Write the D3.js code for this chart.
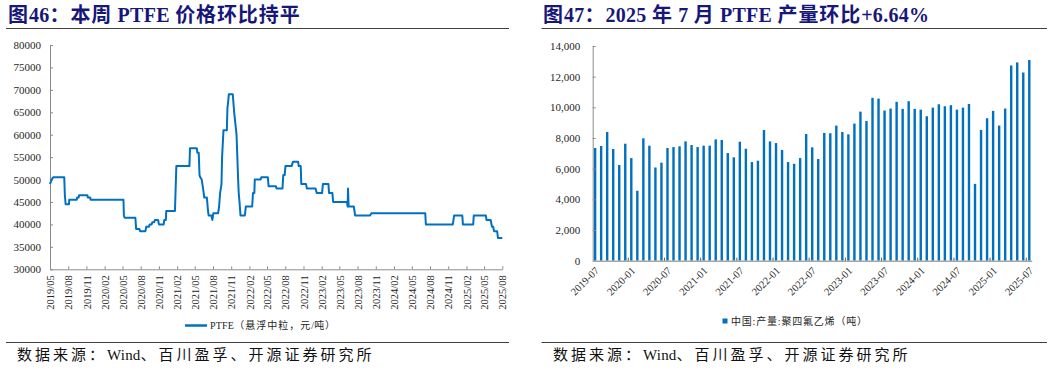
<!DOCTYPE html>
<html><head><meta charset="utf-8">
<script src="https://cdn.jsdelivr.net/npm/d3@7"></script>
<style>
html,body{margin:0;padding:0;background:#fff;}
svg{display:block;}
</style></head><body>
<svg id="c" width="1057" height="369"></svg>
<script>
// ---------- data ----------
const priceDates = ["2019-05-01","2019-05-09","2019-05-17","2019-07-12","2019-07-15","2019-07-19","2019-08-05","2019-08-06","2019-09-13","2019-09-15","2019-09-23","2019-09-25","2019-11-06","2019-11-08","2019-11-20","2019-11-22","2020-05-06","2020-05-08","2020-05-12","2020-07-05","2020-07-09","2020-07-25","2020-07-29","2020-08-25","2020-08-29","2020-09-12","2020-09-15","2020-09-25","2020-09-29","2020-10-08","2020-10-12","2020-10-28","2020-11-01","2020-11-25","2020-11-28","2020-12-06","2020-12-08","2021-01-21","2021-01-28","2021-04-04","2021-04-07","2021-05-11","2021-05-14","2021-05-21","2021-05-25","2021-05-29","2021-06-05","2021-06-12","2021-06-18","2021-07-01","2021-07-07","2021-07-10","2021-07-24","2021-07-29","2021-08-03","2021-08-27","2021-09-01","2021-09-06","2021-09-13","2021-09-16","2021-09-23","2021-10-10","2021-10-13","2021-10-16","2021-10-20","2021-11-09","2021-11-16","2021-11-28","2021-12-02","2021-12-06","2021-12-09","2021-12-13","2021-12-18","2022-01-09","2022-01-14","2022-02-15","2022-02-19","2022-02-26","2022-02-28","2022-03-29","2022-04-02","2022-05-05","2022-05-09","2022-06-15","2022-06-18","2022-07-18","2022-07-22","2022-07-29","2022-08-02","2022-09-02","2022-09-09","2022-10-05","2022-10-08","2022-10-18","2022-10-21","2022-11-14","2022-11-18","2023-01-01","2023-01-07","2023-02-03","2023-02-07","2023-03-07","2023-03-10","2023-03-27","2023-03-31","2023-06-09","2023-06-12","2023-06-14","2023-06-17","2023-07-13","2023-07-20","2023-10-03","2023-10-10","2024-07-08","2024-07-11","2024-11-24","2024-12-01","2025-01-11","2025-01-14","2025-03-07","2025-03-10","2025-05-10","2025-05-13","2025-06-03","2025-06-10","2025-06-16","2025-06-20","2025-07-06","2025-07-10","2025-08-01"];
const priceValues = [49000,50000,50500,50500,46500,44500,44500,45500,45500,46000,46000,46500,46500,46000,46000,45500,45500,42000,41500,41500,39000,39000,38500,38500,39500,39500,40000,40000,40500,40500,41000,41000,40000,40000,41000,41000,43000,43000,53000,53000,57000,57000,56000,56000,51000,50500,50000,48000,46000,46000,43000,42000,42000,41000,42500,42500,44000,47000,49000,55000,61000,61000,66000,67000,69000,69000,65000,60000,55000,50000,47000,45000,42000,42000,44000,44000,47000,47000,50000,50000,50500,50500,48500,48500,48000,48000,51000,51000,53000,53000,54000,54000,53000,53000,49000,49000,48000,48000,47000,47000,49000,49000,47000,47000,45000,45000,44000,48000,44000,44000,42000,42000,42500,42500,40000,40000,42000,42000,40000,40000,42000,42000,41000,41000,39500,39500,38500,38500,37000,37000];
const priceYTicks = [30000,35000,40000,45000,50000,55000,60000,65000,70000,75000,80000];
const priceXTickLabels = ["2019/05","2019/08","2019/11","2020/02","2020/05","2020/08","2020/11","2021/02","2021/05","2021/08","2021/11","2022/02","2022/05","2022/08","2022/11","2023/02","2023/05","2023/08","2023/11","2024/02","2024/05","2024/08","2024/11","2025/02","2025/05","2025/08"];

const prodMonths = ["2019-07","2019-08","2019-09","2019-10","2019-11","2019-12",
 "2020-01","2020-02","2020-03","2020-04","2020-05","2020-06","2020-07","2020-08","2020-09","2020-10","2020-11","2020-12",
 "2021-01","2021-02","2021-03","2021-04","2021-05","2021-06","2021-07","2021-08","2021-09","2021-10","2021-11","2021-12",
 "2022-01","2022-02","2022-03","2022-04","2022-05","2022-06","2022-07","2022-08","2022-09","2022-10","2022-11","2022-12",
 "2023-01","2023-02","2023-03","2023-04","2023-05","2023-06","2023-07","2023-08","2023-09","2023-10","2023-11","2023-12",
 "2024-01","2024-02","2024-03","2024-04","2024-05","2024-06","2024-07","2024-08","2024-09","2024-10","2024-11","2024-12",
 "2025-01","2025-02","2025-03","2025-04","2025-05","2025-06","2025-07"];
const prodValues = [7350,7480,8390,7280,6240,7630,
 6690,4560,7980,7500,6080,6390,7350,7410,7460,7780,7540,7410,
 7500,7500,7910,7870,7020,6740,7760,7300,6430,6520,8520,7780,
 7670,7220,6430,6320,6690,8260,7390,6630,8330,8310,8810,8390,
 8240,8940,9720,9110,10620,10570,9790,9920,10360,9900,10400,9900,
 9850,9420,9980,10200,10070,10140,9850,9980,10220,5010,8520,9290,
 9770,8810,9920,12730,12930,12270,13085];
const prodYTicks = [0,2000,4000,6000,8000,10000,12000,14000];
const prodXTickLabels = ["2019-07","2020-01","2020-07","2021-01","2021-07","2022-01","2022-07","2023-01","2023-07","2024-01","2024-07","2025-01","2025-07"];

const titleLeft = "图46：本周 PTFE 价格环比持平";
const titleRight = "图47：2025 年 7 月 PTFE 产量环比+6.64%";
const legendLeft = "PTFE（悬浮中粒，元/吨）";
const legendRight = "中国:产量:聚四氟乙烯（吨）";
const sourceText = "数据来源：Wind、百川盈孚、开源证券研究所";

// ---------- styles ----------
const SERIF = "'Liberation Serif','Times New Roman','Noto Sans CJK SC',serif";
const BLUE = "#0070C0";
const TITLE = "#17177a";
const AXIS = "#8c8c8c";
const TXT = "#262626";

const svg = d3.select("#c");

// text with separate spacing for CJK runs and latin runs
function rich(sel, str, cjkSp, latSp) {
  const runs = str.match(/[\u3000-\u303f\u4e00-\u9fff\uff00-\uffef]+|[^\u3000-\u303f\u4e00-\u9fff\uff00-\uffef]+/g);
  runs.forEach(r => {
    const isCjk = /[\u3000-\u303f\u4e00-\u9fff\uff00-\uffef]/.test(r);
    sel.append("tspan").text(r).attr("letter-spacing", isCjk ? cjkSp : latSp);
  });
  return sel;
}

// titles, rules, sources
[[8, titleLeft, 6, 509, 17], [543, titleRight, 541.5, 1047, 553]].forEach(([tx, t, x0, x1, sx]) => {
  const tt = svg.append("text").attr("x", tx).attr("y", 22)
    .attr("font-family", SERIF).attr("font-weight", "bold").attr("font-size", 20).attr("fill", TITLE);
  rich(tt, t, 0.9, 0.3);
  svg.append("line").attr("x1", x0).attr("x2", x1).attr("y1", 28.5).attr("y2", 28.5).attr("stroke", "#404040").attr("stroke-width", 1);
  svg.append("line").attr("x1", x0).attr("x2", x1).attr("y1", 342.5).attr("y2", 342.5).attr("stroke", "#404040").attr("stroke-width", 1);
  const st = svg.append("text").attr("x", sx).attr("y", 360)
    .attr("font-family", SERIF).attr("font-size", 15).attr("fill", "#111");
  rich(st, sourceText, 3, 0.2);
});

// ---------- left chart ----------
const parseD = d3.timeParse("%Y-%m-%d");
const parseM = d3.timeParse("%Y/%m");
const x = d3.scaleTime().domain([parseM("2019/05"), parseM("2025/08")]).range([50, 502.3]);
const y = d3.scaleLinear().domain([30000, 80000]).range([269.3, 45]);

const gL = svg.append("g");
const yAx = gL.append("g").attr("transform", "translate(50,0)")
  .call(d3.axisLeft(y).tickValues(priceYTicks).tickFormat(d3.format("d")).tickSize(-3).tickSizeOuter(0).tickPadding(9));
const xAx = gL.append("g").attr("transform", "translate(0,269.3)")
  .call(d3.axisBottom(x).tickValues(priceXTickLabels.map(parseM)).tickFormat(d3.timeFormat("%Y/%m")).tickSize(-3).tickSizeOuter(0));
xAx.selectAll("text").attr("transform", "rotate(-90)").attr("x", -6).attr("y", 0).attr("dy", "0.35em").attr("text-anchor", "end");
[yAx, xAx].forEach(a => {
  a.selectAll("path.domain").attr("stroke", AXIS);
  a.selectAll(".tick line").attr("stroke", AXIS);
  a.selectAll("text").attr("font-family", SERIF).attr("font-size", 11).attr("fill", TXT);
});
xAx.selectAll("text").attr("font-size", 10.5);

const pts = priceDates.map((d, i) => [parseD(d), priceValues[i]]);
gL.append("path").datum(pts)
  .attr("d", d3.line().x(d => x(d[0])).y(d => y(d[1])))
  .attr("fill", "none").attr("stroke", BLUE).attr("stroke-width", 2).attr("stroke-linejoin", "round");

// legend left
gL.append("line").attr("x1", 185).attr("x2", 207).attr("y1", 325.5).attr("y2", 325.5).attr("stroke", BLUE).attr("stroke-width", 2.5);
const lt = gL.append("text").attr("x", 210).attr("y", 329)
  .attr("font-family", SERIF).attr("font-size", 10).attr("fill", TXT);
rich(lt, legendLeft, 1, 0.2);

// ---------- right chart ----------
const xb = d3.scaleBand().domain(prodMonths).range([592.7, 1031.7]).paddingInner(0.6).paddingOuter(0.2);
const yb = d3.scaleLinear().domain([0, 14000]).range([260.7, 46]);
const gR = svg.append("g");

gR.selectAll("rect.bar").data(prodMonths).join("rect").attr("class", "bar")
  .attr("x", d => xb(d)).attr("width", xb.bandwidth())
  .attr("y", (d, i) => yb(prodValues[i])).attr("height", (d, i) => yb(0) - yb(prodValues[i]))
  .attr("fill", BLUE);

const ybAx = gR.append("g").attr("transform", "translate(592.7,0)")
  .call(d3.axisLeft(yb).tickValues(prodYTicks).tickFormat(d3.format(",")).tickSize(-3).tickSizeOuter(0).tickPadding(12.5));
ybAx.selectAll("path.domain").attr("stroke", AXIS);
ybAx.selectAll(".tick line").attr("stroke", AXIS);
ybAx.selectAll("text").attr("font-family", SERIF).attr("font-size", 11).attr("fill", TXT);

const xbAx = gR.append("g").attr("transform", "translate(0,260.7)")
  .call(d3.axisBottom(xb).tickValues(prodXTickLabels).tickSize(0).tickSizeOuter(0));
xbAx.selectAll("path.domain").attr("stroke", "#a6a6a6").attr("stroke-width", 1.5);
xbAx.selectAll("text").attr("font-family", SERIF).attr("font-size", 10.5).attr("fill", TXT)
  .attr("transform", "translate(2,8) rotate(-45)").attr("x", 0).attr("y", 0).attr("dy", "0.35em").attr("text-anchor", "end");
// category tick marks at band boundaries every 6 months
const half = (xb.step() - xb.bandwidth()) / 2;
gR.selectAll("line.ctick").data(prodMonths.filter((d, i) => i > 0 && i % 6 === 0)).join("line")
  .attr("class", "ctick")
  .attr("x1", d => xb(d) - half).attr("x2", d => xb(d) - half)
  .attr("y1", 260.7).attr("y2", 257.7).attr("stroke", "#595959");

// legend right
gR.append("rect").attr("x", 722.5).attr("y", 318.5).attr("width", 5).attr("height", 5).attr("fill", BLUE);
const rt = gR.append("text").attr("x", 731).attr("y", 325)
  .attr("font-family", SERIF).attr("font-size", 10).attr("fill", TXT);
rich(rt, legendRight, 0.8, 0.8);
</script>
</body></html>
